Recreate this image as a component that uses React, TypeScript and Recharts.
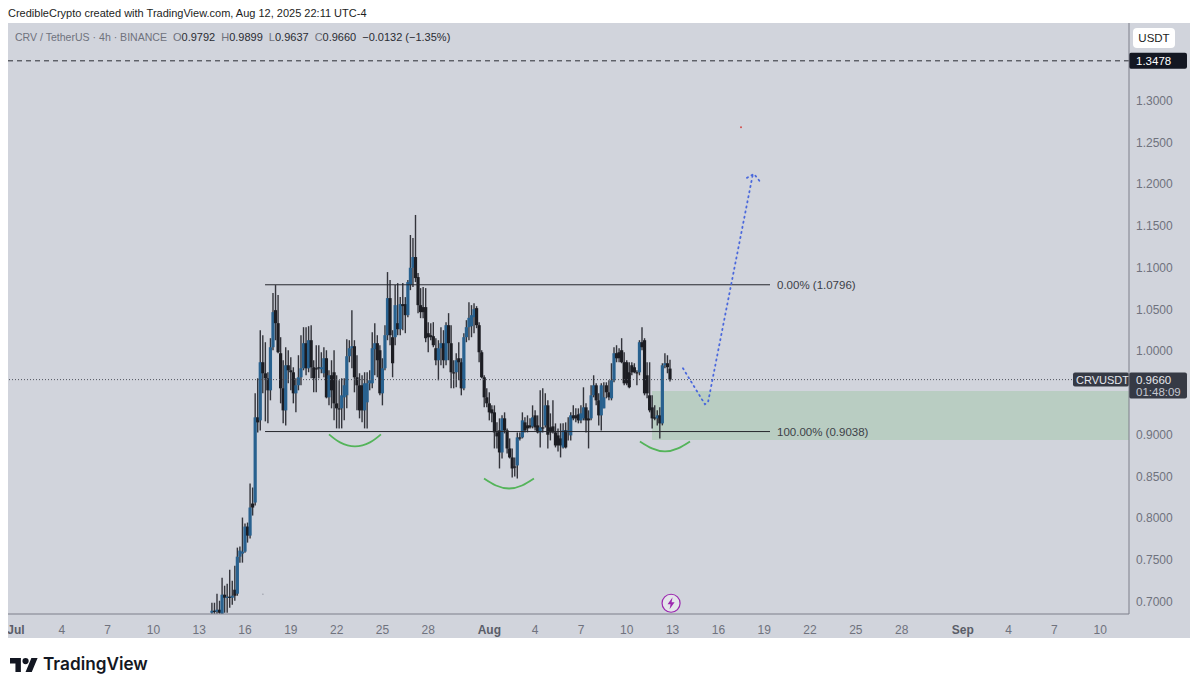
import React from "react";
import { Bar, ComposedChart, Line, ReferenceArea, ReferenceDot, ReferenceLine, XAxis, YAxis } from "recharts";

// 4h candles, first one at about Jul 13 20:00
const opens = [
  0.6868, 0.6892, 0.688, 0.6904, 0.6856, 0.7084, 0.7048, 0.706, 0.7048, 0.7144, 0.7096, 0.754, 0.7576, 0.76, 0.79, 0.7792, 0.8176, 0.8188, 0.9208, 0.9172,
  0.9868, 0.9736, 0.9676, 0.9532, 1.0048, 1.0492, 1.0336, 0.9976, 0.9556, 0.9292, 0.9832, 0.9772, 0.9748, 0.9496, 0.9592, 0.9688, 0.9796, 1.0096, 0.9796, 1.0132,
  0.9808, 0.9796, 0.9808, 0.9784, 0.9736, 0.9916, 0.9448, 0.9712, 0.9748, 0.9376, 0.9316, 0.9316, 0.9448, 0.9472, 0.994, 1.0036, 1.006, 0.9688, 0.9592, 0.9592,
  0.9292, 0.9388, 0.9616, 0.9616, 1.0024, 1.0096, 1.0012, 0.9496, 0.9796, 1.0192, 1.0636, 1.0168, 1.0168, 1.0336, 1.0264, 1.0564, 1.0564, 1.0432, 1.0792, 1.1,
  1.1128, 1.0888, 1.0552, 1.0528, 1.0528, 1.0216, 1.0192, 1.018, 1.0036, 0.9892, 1.0036, 1.0096, 0.9892, 1.0312, 1.0096, 0.9748, 0.9748, 0.9916, 0.9868, 0.9556,
  1.0168, 1.0288, 1.03, 1.0408, 1.0516, 1.0312, 0.9988, 0.9688, 0.9448, 0.9376, 0.9304, 0.9268, 0.9028, 0.9052, 0.8788, 0.9196, 0.9052, 0.8836, 0.8728, 0.862,
  0.8632, 0.8968, 0.8968, 0.9148, 0.9112, 0.9112, 0.91, 0.9232, 0.9112, 0.9028, 0.9088, 0.9112, 0.9352, 0.9088, 0.91, 0.9028, 0.8992, 0.8956, 0.8848, 0.9052,
  0.9028, 0.8992, 0.9232, 0.9232, 0.9244, 0.9172, 0.9196, 0.9328, 0.9196, 0.9196, 0.9472, 0.9592, 0.9412, 0.9232, 0.9316, 0.9592, 0.9508, 0.9436, 0.9652, 0.9976,
  0.9988, 1.0012, 0.9868, 0.9868, 0.9748, 0.9832, 0.9808, 0.9748, 0.9748, 1.0108, 1.0132, 0.9712, 0.9472, 0.9328, 0.9208, 0.9196, 0.9232, 0.9136, 0.9832, 0.9856,
  0.9792,
];
const closes = [
  0.6892, 0.688, 0.6904, 0.6868, 0.7084, 0.7048, 0.706, 0.7048, 0.7072, 0.7072, 0.754, 0.7612, 0.76, 0.79, 0.7792, 0.8128, 0.8128, 0.9208, 0.9148, 0.9868,
  0.9736, 0.9676, 0.9532, 1.0048, 1.0468, 1.0336, 0.9988, 0.9556, 0.9292, 0.9832, 0.9772, 0.9748, 0.9496, 0.9592, 0.9688, 0.9796, 1.0096, 0.9796, 1.0132, 0.9808,
  0.9676, 0.9784, 0.9796, 0.9808, 0.9916, 0.9448, 0.9712, 0.9532, 0.9376, 0.9316, 0.9304, 0.9472, 0.9592, 0.994, 1.0036, 1.006, 0.9688, 0.9592, 0.9292, 0.9292,
  0.9616, 0.9616, 0.9652, 1.0036, 1.0096, 0.9892, 0.9496, 0.9796, 1.0192, 1.0636, 1.0192, 0.9856, 1.0552, 1.0264, 1.0564, 1.054, 1.0432, 1.0828, 1.1, 1.1128,
  1.0876, 1.0552, 1.0468, 1.0468, 1.0156, 1.0168, 1.0168, 1.0072, 0.9892, 1.0036, 1.0096, 0.9892, 1.0312, 1.0096, 0.9748, 0.9736, 0.9892, 0.9868, 0.9556, 1.0168,
  1.0288, 1.04, 1.0432, 1.0504, 1.0312, 0.9988, 0.9688, 0.9448, 0.9376, 0.9268, 0.9256, 0.9028, 0.898, 0.8788, 0.9196, 0.9052, 0.8836, 0.8728, 0.8596, 0.8608,
  0.8968, 0.8956, 0.9172, 0.9052, 0.9076, 0.9088, 0.9208, 0.9088, 0.9028, 0.9088, 0.9076, 0.9352, 0.9, 0.9028, 0.9028, 0.8872, 0.8872, 0.8872, 0.9052, 0.8848,
  0.9052, 0.9232, 0.9196, 0.9196, 0.9172, 0.9256, 0.9328, 0.9172, 0.9172, 0.9472, 0.9592, 0.9412, 0.9232, 0.9592, 0.9448, 0.9508, 0.9448, 0.9652, 0.9976, 0.9916,
  0.9916, 0.9868, 0.9616, 0.9616, 0.9568, 0.9748, 0.9748, 0.9736, 1.0108, 1.0048, 0.9496, 0.9496, 0.9292, 0.9196, 0.9196, 0.9232, 0.9136, 0.9832, 0.9856, 0.9808,
  0.966,
];
const highs = [
  0.6988, 0.6988, 0.7096, 0.7012, 0.7288, 0.7192, 0.7216, 0.7384, 0.7252, 0.7432, 0.7648, 0.766, 0.8008, 0.7936, 0.7948, 0.8416, 0.8368, 0.9496, 0.9676, 1.0252,
  1.0192, 1.0108, 0.9748, 1.0156, 1.0696, 1.0792, 1.0672, 1.0168, 0.9892, 1.0048, 1.0012, 0.9928, 0.9808, 0.9676, 0.9952, 1.0192, 1.0288, 1.0288, 1.03, 1.0312,
  0.9892, 1.0072, 1.0072, 0.9988, 1.0048, 1.0012, 0.9772, 0.9892, 1.0012, 0.9712, 0.9652, 0.9676, 0.9676, 1.0144, 1.0132, 1.0492, 1.0132, 0.9952, 0.9736, 0.9712,
  0.9748, 0.9748, 0.9772, 1.0228, 1.0336, 1.0192, 1.0072, 0.9916, 1.0312, 1.0948, 1.0852, 1.0252, 1.0792, 1.0816, 1.0648, 1.0816, 1.0648, 1.0852, 1.1392, 1.1356,
  1.1632, 1.0936, 1.0756, 1.0768, 1.0756, 1.0348, 1.0336, 1.0348, 1.0156, 1.0132, 1.0288, 1.0252, 1.0348, 1.0456, 1.0312, 0.9892, 0.9976, 1.0108, 0.9916, 1.0216,
  1.0372, 1.0588, 1.0552, 1.0576, 1.054, 1.0348, 1.0012, 0.9712, 0.9556, 0.9508, 0.9352, 0.9352, 0.9148, 0.9196, 0.9232, 0.9268, 0.9076, 0.8956, 0.8836, 0.8728,
  0.9028, 0.9028, 0.9268, 0.9208, 0.9232, 0.9196, 0.9352, 0.9292, 0.9232, 0.9532, 0.9556, 0.9496, 0.9412, 0.9256, 0.9412, 0.9136, 0.9076, 0.9136, 0.9136, 0.9148,
  0.9208, 0.9268, 0.9352, 0.9316, 0.9316, 0.9352, 0.9568, 0.9376, 0.9292, 0.9592, 0.9712, 0.9616, 0.9496, 0.9616, 0.9628, 0.9628, 0.9652, 0.9856, 1.0048, 1.0072,
  1.0036, 1.0156, 0.9988, 0.9892, 0.9868, 0.9868, 0.9856, 0.9772, 1.0132, 1.0288, 1.0156, 0.9868, 0.9868, 0.9472, 0.9352, 0.9292, 0.9328, 0.9856, 0.9976, 0.9952,
  0.9899,
];
const lows = [
  0.6856, 0.6856, 0.6856, 0.6856, 0.6856, 0.6868, 0.6868, 0.6928, 0.6964, 0.7012, 0.7072, 0.7468, 0.7468, 0.7588, 0.7708, 0.7756, 0.8032, 0.8152, 0.9028, 0.9052,
  0.9496, 0.916, 0.9136, 0.9412, 1.0012, 1.0132, 0.9976, 0.9376, 0.9136, 0.9112, 0.9616, 0.9532, 0.9376, 0.9268, 0.9532, 0.9592, 0.9772, 0.9712, 0.9748, 0.9676,
  0.9508, 0.9508, 0.9676, 0.9736, 0.9688, 0.9436, 0.9352, 0.9316, 0.9172, 0.9076, 0.9076, 0.9076, 0.9172, 0.9316, 0.9868, 0.9796, 0.9508, 0.9292, 0.9196, 0.9148,
  0.9076, 0.9076, 0.9532, 0.9556, 0.9712, 0.9688, 0.9472, 0.9352, 0.9772, 1.0132, 1.0072, 0.9688, 1.0072, 1.0192, 1.0192, 1.0252, 1.0216, 1.0408, 1.0732, 1.0768,
  1.0828, 1.0456, 1.0396, 1.0396, 1.0108, 0.9988, 1.0132, 1.0048, 0.9832, 0.9652, 0.9832, 0.9796, 0.9832, 0.9892, 0.9556, 0.9556, 0.9568, 0.9652, 0.9472, 0.9532,
  1.0108, 1.0132, 1.0168, 1.0216, 1.0276, 0.9868, 0.9676, 0.9328, 0.9328, 0.9172, 0.9148, 0.8836, 0.8836, 0.8596, 0.8716, 0.9016, 0.8776, 0.8716, 0.8488, 0.85,
  0.8476, 0.8932, 0.8956, 0.9028, 0.9028, 0.9076, 0.9076, 0.9052, 0.9016, 0.8848, 0.9028, 0.9088, 0.8836, 0.8932, 0.9016, 0.8848, 0.88, 0.8728, 0.8836, 0.8836,
  0.8932, 0.8932, 0.9172, 0.9148, 0.9136, 0.9136, 0.9172, 0.9028, 0.8836, 0.9172, 0.9448, 0.9352, 0.9112, 0.9052, 0.9316, 0.9436, 0.9412, 0.9412, 0.9628, 0.9868,
  0.9868, 0.9856, 0.9592, 0.9592, 0.9556, 0.9712, 0.9736, 0.9592, 0.9712, 1.0012, 0.9472, 0.9436, 0.9268, 0.9076, 0.9172, 0.9112, 0.8956, 0.9112, 0.9796, 0.9736,
  0.9637,
];

const FIRST_CANDLE_DAY = 12.83;
const candles = opens.map((open, i) => ({
  day: FIRST_CANDLE_DAY + i / 6,
  open,
  close: closes[i],
  high: highs[i],
  low: lows[i],
}));

// day 0 is Jul 1
const dayTicks = [0, 3, 6, 9, 12, 15, 18, 21, 24, 27, 31, 34, 37, 40, 43, 46, 49, 52, 55, 58, 62, 65, 68, 71];
const dayLabels = ["Jul", "4", "7", "10", "13", "16", "19", "22", "25", "28", "Aug", "4", "7", "10", "13", "16", "19", "22", "25", "28", "Sep", "4", "7", "10"];
// 0.9500 is hidden behind the last price tag
const priceTicks = [0.7, 0.75, 0.8, 0.85, 0.9, 1.0, 1.05, 1.1, 1.15, 1.2, 1.25, 1.3];

// drawings on the chart
const smile1 = [
  { day: 20.5, v: 0.9004 }, { day: 21.22, v: 0.8908 }, { day: 22.2, v: 0.886 }, { day: 23.18, v: 0.8908 }, { day: 23.9, v: 0.9004 },
];
const smile2 = [
  { day: 30.65, v: 0.8476 }, { day: 31.43, v: 0.8392 }, { day: 32.29, v: 0.8356 }, { day: 33.14, v: 0.8392 }, { day: 33.92, v: 0.8476 },
];
const smile3 = [
  { day: 40.86, v: 0.892 }, { day: 41.65, v: 0.8836 }, { day: 42.5, v: 0.88 }, { day: 43.35, v: 0.8836 }, { day: 44.14, v: 0.892 },
];
const projection = [
  { day: 43.68, v: 0.9796 }, { day: 45.12, v: 0.9364 }, { day: 45.32, v: 0.9388 }, { day: 48.26, v: 1.2124 },
];
const arrowHead = [
  { day: 47.87, v: 1.2076 }, { day: 48.33, v: 1.2124 }, { day: 48.79, v: 1.2016 },
];
const FIB_START = 16.31;
const FIB_END = 49.38;
const FIB_TOP = 1.0796;
const FIB_BOTTOM = 0.9038;
const LAST_PRICE = 0.966;
const HORIZONTAL = 1.3478;
const DOMAIN_X: [number, number] = [-0.524, 72.89];
const DOMAIN_Y: [number, number] = [0.6853, 1.3931];

const FONT = "'Liberation Sans', Arial, sans-serif";
const GRAY = "#6f727d";

function Candle(props: any) {
  const { x, y, width, height, payload } = props;
  if (!payload || height == null) return null;
  const { open, close, high, low } = payload;
  const perUnit = height / (high - low);
  const top = y + (high - Math.max(open, close)) * perUnit;
  const bodyH = Math.max(Math.abs(close - open) * perUnit, 1.2);
  const cx = x + width / 2;
  const up = close >= open;
  return (
    <g>
      <line x1={cx} x2={cx} y1={y} y2={y + height} stroke="#33343b" strokeWidth={1.4} />
      <rect x={cx - 1.6} y={top} width={3.2} height={bodyH} fill={up ? "#28618f" : "#1c1d23"} />
    </g>
  );
}

function DayTick({ x, y, index }: any) {
  const label = dayLabels[index];
  const month = isNaN(Number(label));
  return (
    <text x={x} y={y + 12} textAnchor="middle" fontSize={12} fontFamily={FONT} fontWeight={month ? 700 : 400} fill={month ? "#5a5d68" : GRAY}>
      {label}
    </text>
  );
}

function FibLabel(text: string) {
  return ({ viewBox }: any) => (
    <text x={viewBox.x + viewBox.width + 7} y={viewBox.y + 4} fontSize={11.5} fontFamily={FONT} fill="#3c3f48">
      {text}
    </text>
  );
}

function LastPriceTag({ viewBox }: any) {
  const right = viewBox.x + viewBox.width;
  const top = viewBox.y - 7;
  return (
    <g fontFamily={FONT} fontSize={11}>
      <rect x={right - 56} y={top} width={56} height={14} rx={2} fill="#363a45" />
      <text x={right - 53} y={top + 11} fill="#e6e8ee">CRVUSDT</text>
      <rect x={right} y={top} width={58} height={26} rx={2} fill="#363a45" />
      <text x={right + 7} y={top + 11} fontSize={11.5} fill="#e6e8ee">0.9660</text>
      <text x={right + 7} y={top + 23} fontSize={11.5} fill="#c4c7d0">01:48:09</text>
    </g>
  );
}

function HorizontalTag({ viewBox }: any) {
  const right = viewBox.x + viewBox.width;
  return (
    <g fontFamily={FONT} fontSize={11.5}>
      <rect x={right} y={viewBox.y - 8} width={58} height={16} rx={2} fill="#131722" />
      <text x={right + 7} y={viewBox.y + 4} fill="#ffffff">1.3478</text>
    </g>
  );
}

function ZapIcon({ cx, cy }: any) {
  return (
    <g>
      <circle cx={cx} cy={cy} r={9} fill="#e4e5ea" stroke="#9c27b0" strokeWidth={1.2} />
      <path d={`M${cx + 1.5} ${cy - 6}L${cx - 3.5} ${cy + 1}H${cx - 0.5}L${cx - 1.5} ${cy + 6}L${cx + 3.5} ${cy - 1}H${cx + 0.5}Z`} fill="#9c27b0" />
    </g>
  );
}

const ohlc = [
  ["O", "0.9792"],
  ["H", "0.9899"],
  ["L", "0.9637"],
  ["C", "0.9660"],
];

export default function App() {
  return (
    <div style={{ position: "absolute", left: 0, top: 0, width: 1200, height: 690, background: "#fff", overflow: "hidden", fontFamily: FONT }}>
      <div style={{ position: "absolute", left: 8, top: 7, fontSize: 11, color: "#1c1d22", whiteSpace: "nowrap" }}>
        CredibleCrypto created with TradingView.com, Aug 12, 2025 22:11 UTC-4
      </div>
      <div style={{ position: "absolute", left: 8, top: 23, width: 1182, height: 615, background: "#d1d4dc" }} />
      <div style={{ position: "absolute", left: 8, top: 23 }}>
        <ComposedChart width={1182} height={615} data={candles} margin={{ top: 0, right: 0, bottom: 0, left: 0 }}>
          <XAxis
            dataKey="day"
            type="number"
            scale="linear"
            domain={DOMAIN_X}
            allowDataOverflow
            ticks={dayTicks}
            interval={0}
            height={24}
            tickLine={false}
            stroke="#7c7f8a"
            tick={<DayTick />}
          />
          <YAxis
            orientation="right"
            type="number"
            domain={DOMAIN_Y}
            allowDataOverflow
            ticks={priceTicks}
            interval={0}
            width={61}
            tickLine={false}
            stroke="#7c7f8a"
            tickMargin={1}
            tick={{ fontSize: 12, fontFamily: FONT, fill: GRAY }}
            tickFormatter={(v: number) => v.toFixed(4)}
          />
          <ReferenceLine y={HORIZONTAL} stroke="#2a2c33" strokeDasharray="5 4" label={HorizontalTag} />
          <ReferenceLine y={LAST_PRICE} stroke="#50535e" strokeDasharray="1 2" label={LastPriceTag} />
          <Bar dataKey={(d: any) => [d.low, d.high]} barSize={2} shape={<Candle />} isAnimationActive={false} />
          <ReferenceArea x1={41.65} x2={DOMAIN_X[1]} y1={FIB_BOTTOM - 0.01} y2={0.9523} fill="#4caf50" fillOpacity={0.18} stroke="none" />
          <ReferenceLine
            segment={[{ x: FIB_START, y: FIB_TOP }, { x: FIB_END, y: FIB_TOP }]}
            stroke="#26272d"
            label={FibLabel("0.00% (1.0796)")}
          />
          <ReferenceLine
            segment={[{ x: FIB_START, y: FIB_BOTTOM }, { x: FIB_END, y: FIB_BOTTOM }]}
            stroke="#26272d"
            label={FibLabel("100.00% (0.9038)")}
          />
          {[smile1, smile2, smile3].map((s, i) => (
            <Line key={i} data={s} dataKey="v" type="natural" stroke="#54b45a" strokeWidth={1.8} dot={false} isAnimationActive={false} />
          ))}
          <Line data={projection} dataKey="v" type="linear" stroke="#4a68dc" strokeWidth={1.8} strokeDasharray="1.2 4" strokeLinecap="round" dot={false} isAnimationActive={false} />
          <Line data={arrowHead} dataKey="v" type="linear" stroke="#4a68dc" strokeWidth={1.8} strokeDasharray="1.2 4" strokeLinecap="round" dot={false} isAnimationActive={false} />
          <ReferenceDot x={47.48} y={1.2683} r={1} fill="#d2504d" stroke="none" />
          <ReferenceDot x={16.17} y={0.709} r={0.6} fill="#8a8d96" stroke="none" />
          <ReferenceDot x={42.9} y={0.6982} shape={<ZapIcon />} />
        </ComposedChart>
      </div>
      <div style={{ position: "absolute", left: 15, top: 31, fontSize: 11, color: GRAY, whiteSpace: "nowrap" }}>
        <span style={{ fontSize: 10.55 }}>CRV / TetherUS · 4h · BINANCE</span>
        {ohlc.map(([k, v]) => (
          <span key={k} style={{ marginLeft: 6 }}>
            {k}
            <span style={{ color: "#2a2c33" }}>{v}</span>
          </span>
        ))}
        <span style={{ marginLeft: 6, color: "#2a2c33" }}>−0.0132 (−1.35%)</span>
      </div>
      <div style={{ position: "absolute", left: 1133, top: 28, width: 42, height: 20, borderRadius: 4, background: "#fff", fontSize: 11.5, lineHeight: "20px", textAlign: "center", color: "#1c1d22" }}>
        USDT
      </div>
      <svg style={{ position: "absolute", left: 10, top: 656 }} width={28} height={18} viewBox="0 3 36 20">
        <path d="M14 22H7V11H0V4h14v18zM28 22h-8l7.5-18h8L28 22z" fill="#131722" />
        <circle cx={20} cy={8} r={4} fill="#131722" />
      </svg>
      <div style={{ position: "absolute", left: 43, top: 653, fontFamily: "Inter, sans-serif", fontSize: 17.2, fontWeight: 600, color: "#131722", whiteSpace: "nowrap" }}>TradingView</div>
    </div>
  );
}
